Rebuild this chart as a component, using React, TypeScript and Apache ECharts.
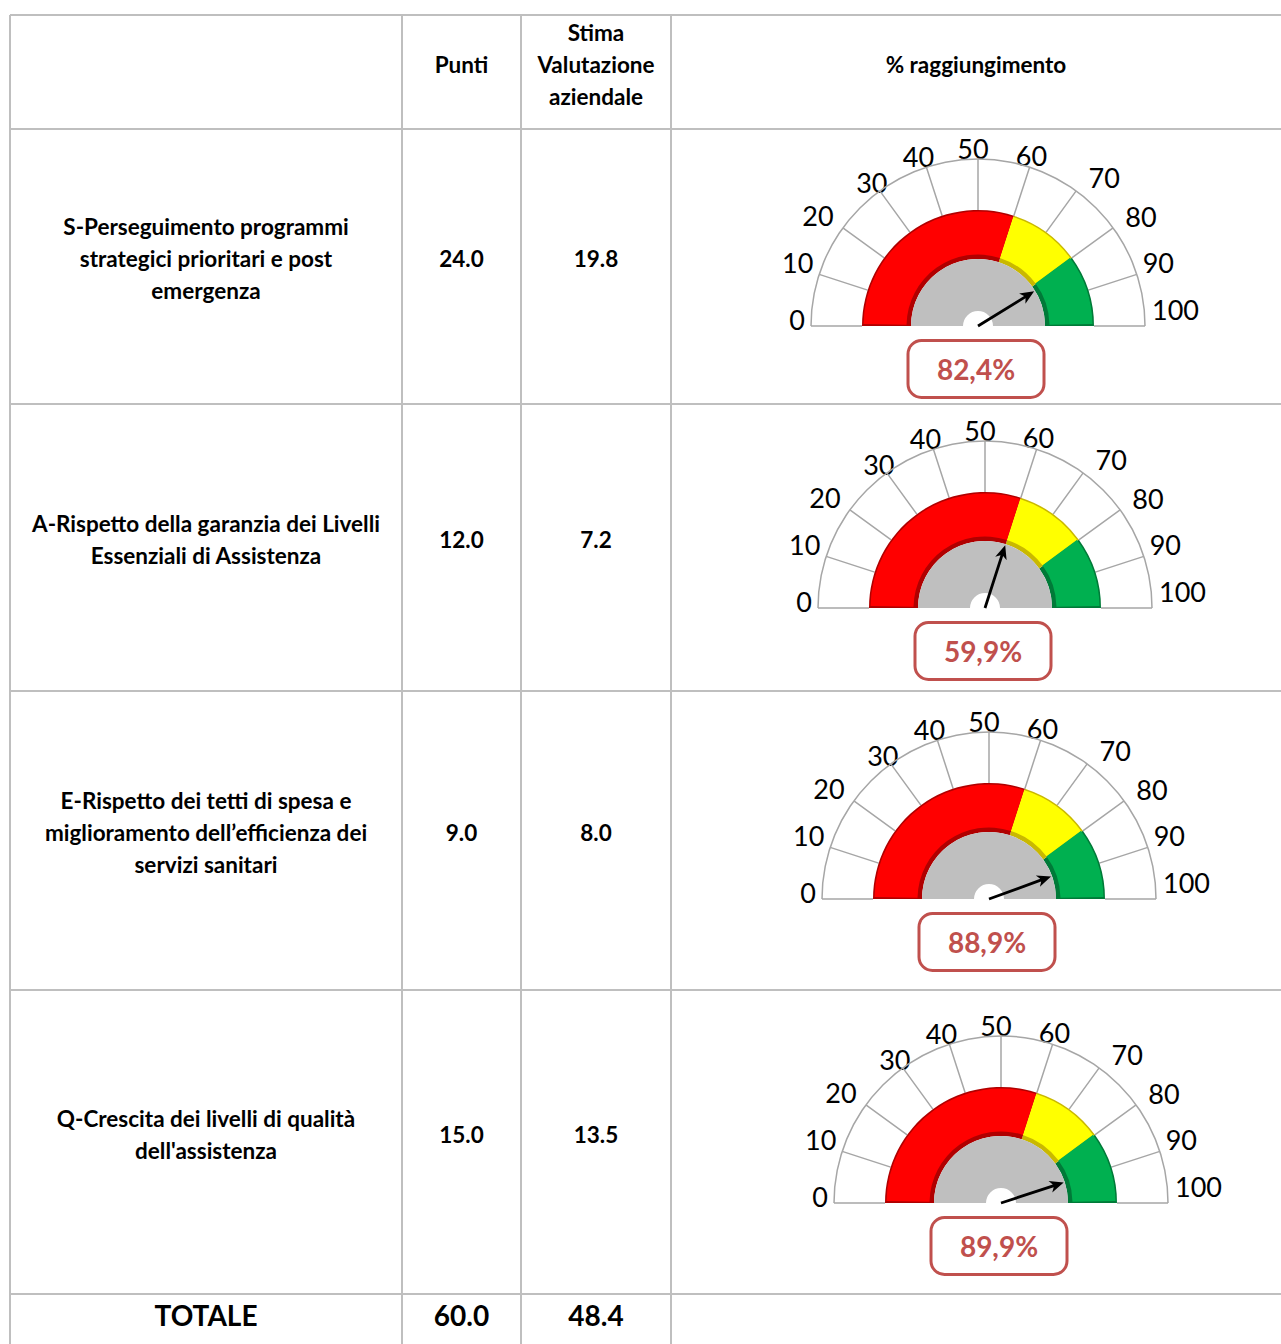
import React, { useEffect, useRef } from "react";
import * as echarts from "echarts";

// ---- data ----
const headers = ["", "Punti", "Stima\nValutazione\naziendale", "% raggiungimento"];
const categories = [
  "S-Perseguimento programmi\nstrategici prioritari e post\nemergenza",
  "A-Rispetto della garanzia dei Livelli\nEssenziali di Assistenza",
  "E-Rispetto dei tetti di spesa e\nmiglioramento dell\u2019efficienza dei\nservizi sanitari",
  "Q-Crescita dei livelli di qualità\ndell'assistenza",
];
const punti = [24.0, 12.0, 9.0, 15.0];
const stima = [19.8, 7.2, 8.0, 13.5];
const raggiungimento = [82.4, 59.9, 88.9, 89.9];
const totalLabel = "TOTALE";
const totalPunti = 60.0;
const totalStima = 48.4;
const bandStops = [60, 80, 100];

// ---- layout / style ----
const W = 1281;
const H = 1344;
const colX = [10, 402, 521, 671, 1281];
const rowY = [15, 129, 404, 691, 990, 1294, 1344];
const gaugeCenters: [number, number][] = [
  [978, 326],
  [985, 608],
  [989, 899],
  [1001, 1203],
];
// per-tick label padding [top, right, bottom, left] to mimic the original label placement
const labelPadding: Record<number, number[]> = {
  0: [0, 2, 14, 0],
  10: [0, 2, -3, 0],
  20: [0, 6, -4, 0],
  30: [0, -10, -8, 0],
  40: [0, -9, -7, 0],
  50: [0, 10, -7, 0],
  60: [0, 0, -6, -15],
  70: [0, 0, -3, 10],
  80: [0, 0, -5, 9],
  90: [0, 0, -3, 2],
  100: [0, 0, 34, 3],
};
const FONT = "Lato, 'Open Sans', sans-serif";
const LINE = "#BFBFBF";
const SCALE = "#A6A6A6";

export default function App() {
  const ref = useRef<HTMLDivElement>(null);
  useEffect(() => {
    if (!ref.current) return;
    const chart = echarts.init(ref.current, undefined, { renderer: "svg" });

    const graphic: any[] = [];
    rowY.slice(0, 6).forEach((y) => {
      graphic.push({
        type: "line",
        shape: { x1: colX[0], y1: y, x2: colX[4], y2: y },
        style: { stroke: LINE, lineWidth: 2 },
      });
    });
    colX.slice(0, 4).forEach((x) => {
      graphic.push({
        type: "line",
        shape: { x1: x, y1: rowY[0], x2: x, y2: H },
        style: { stroke: LINE, lineWidth: 2 },
      });
    });
    const txt = (text: string, cx: number, cy: number, size = 22.5) => ({
      type: "text",
      x: cx,
      y: cy,
      style: {
        text,
        fill: "#000",
        font: `bold ${size}px ${FONT}`,
        align: "center",
        verticalAlign: "middle",
        lineHeight: 32,
      },
    });
    const colC = (i: number) => (colX[i] + colX[i + 1]) / 2;
    const rowC = (i: number) => (rowY[i] + rowY[i + 1]) / 2 - 8;
    headers.forEach((h, i) => {
      if (h) graphic.push(txt(h, colC(i), rowC(0)));
    });
    categories.forEach((c, r) => {
      graphic.push(txt(c, colC(0), rowC(r + 1)));
      graphic.push(txt(punti[r].toFixed(1), colC(1), rowC(r + 1)));
      graphic.push(txt(stima[r].toFixed(1), colC(2), rowC(r + 1)));
    });
    const ty = rowY[5] + 21;
    graphic.push(txt(totalLabel, colC(0), ty, 28));
    graphic.push(txt(totalPunti.toFixed(1), colC(1), ty, 28));
    graphic.push(txt(totalStima.toFixed(1), colC(2), ty, 28));

    const rich: Record<string, any> = {};
    Object.keys(labelPadding).forEach((k) => {
      rich["t" + k] = {
        padding: labelPadding[Number(k)],
        fontSize: 27,
        fontFamily: FONT,
        color: "#000",
      };
    });

    const polar: any[] = [];
    const angleAxis: any[] = [];
    const radiusAxis: any[] = [];
    const series: any[] = [];

    const darkBand = [
      [bandStops[0] / 100, "#B00000"],
      [bandStops[1] / 100, "#C9B800"],
      [1, "#007A38"],
    ];
    const brightBand = [
      [bandStops[0] / 100, "#FF0000"],
      [bandStops[1] / 100, "#FFFF00"],
      [1, "#00B050"],
    ];
    const plain = {
      splitLine: { show: false },
      axisTick: { show: false },
      axisLabel: { show: false },
      pointer: { show: false },
      anchor: { show: false },
      detail: { show: false },
      title: { show: false },
      silent: true,
    };

    raggiungimento.forEach((v, i) => {
      const center = gaugeCenters[i];
      polar.push({ center, radius: [116, 167] });
      angleAxis.push({
        polarIndex: i,
        type: "value",
        min: 0,
        max: 100,
        interval: 10,
        startAngle: 180,
        endAngle: 0,
        clockwise: true,
        axisLine: { show: false },
        axisTick: { show: false },
        splitLine: { show: true, lineStyle: { color: SCALE, width: 1.5 } },
        axisLabel: {
          show: true,
          margin: 4,
          color: "#000",
          fontSize: 27,
          fontFamily: FONT,
          formatter: (val: number) => `{t${val}|${val}}`,
          rich,
        },
      });
      radiusAxis.push({
        polarIndex: i,
        type: "value",
        min: 0,
        max: 1,
        show: false,
        axisLine: { show: false },
        axisLabel: { show: false },
        splitLine: { show: false },
        axisTick: { show: false },
      });
      // outer scale arc
      series.push({
        type: "gauge",
        center,
        radius: 167.75,
        startAngle: 180,
        endAngle: 0,
        min: 0,
        max: 100,
        axisLine: { lineStyle: { width: 1.5, color: [[1, SCALE]] } },
        ...plain,
        data: [],
      });
      series.push({
        type: "gauge",
        center,
        radius: 116,
        startAngle: 180,
        endAngle: 0,
        min: 0,
        max: 100,
        axisLine: { lineStyle: { width: 49, color: darkBand } },
        ...plain,
        data: [],
      });
      series.push({
        type: "gauge",
        center,
        radius: 114.5,
        startAngle: 179,
        endAngle: 1,
        min: 0,
        max: 100,
        axisLine: { lineStyle: { width: 43, color: brightBand } },
        ...plain,
        data: [],
      });
      series.push({
        type: "gauge",
        center,
        radius: 67,
        startAngle: 180,
        endAngle: 0,
        min: 0,
        max: 100,
        axisLine: { lineStyle: { width: 52, color: [[1, "#BFBFBF"]] } },
        ...plain,
        data: [],
      });
      series.push({
        type: "gauge",
        center,
        radius: 67,
        startAngle: 180,
        endAngle: 0,
        min: 0,
        max: 100,
        axisLine: { show: false },
        splitLine: { show: false },
        axisTick: { show: false },
        axisLabel: { show: false },
        title: { show: false },
        pointer: {
          show: true,
          icon: "path://M6,0 L12,14 L7.4,11 L7.4,66 L4.6,66 L4.6,11 L0,14 Z",
          length: 66,
          width: 12,
          itemStyle: { color: "#000" },
        },
        anchor: { show: false },
        detail: {
          show: true,
          offsetCenter: [-2, 43],
          formatter: (val: number) => val.toFixed(1).replace(".", ",") + "%",
          color: "#C0504D",
          fontSize: 28,
          fontWeight: "bold",
          fontFamily: FONT,
          borderColor: "#C0504D",
          borderWidth: 3,
          borderRadius: 12,
          backgroundColor: "#fff",
          padding: 0,
          width: 133,
          height: 54,
          lineHeight: 54,
          align: "center",
        },
        data: [{ value: v }],
      });
    });

    chart.setOption({
      animation: false,
      backgroundColor: "#fff",
      polar,
      angleAxis,
      radiusAxis,
      series,
      graphic,
    });
    return () => chart.dispose();
  }, []);
  return (
    <div
      ref={ref}
      style={{ position: "absolute", left: 0, top: 0, width: W, height: H }}
    />
  );
}
